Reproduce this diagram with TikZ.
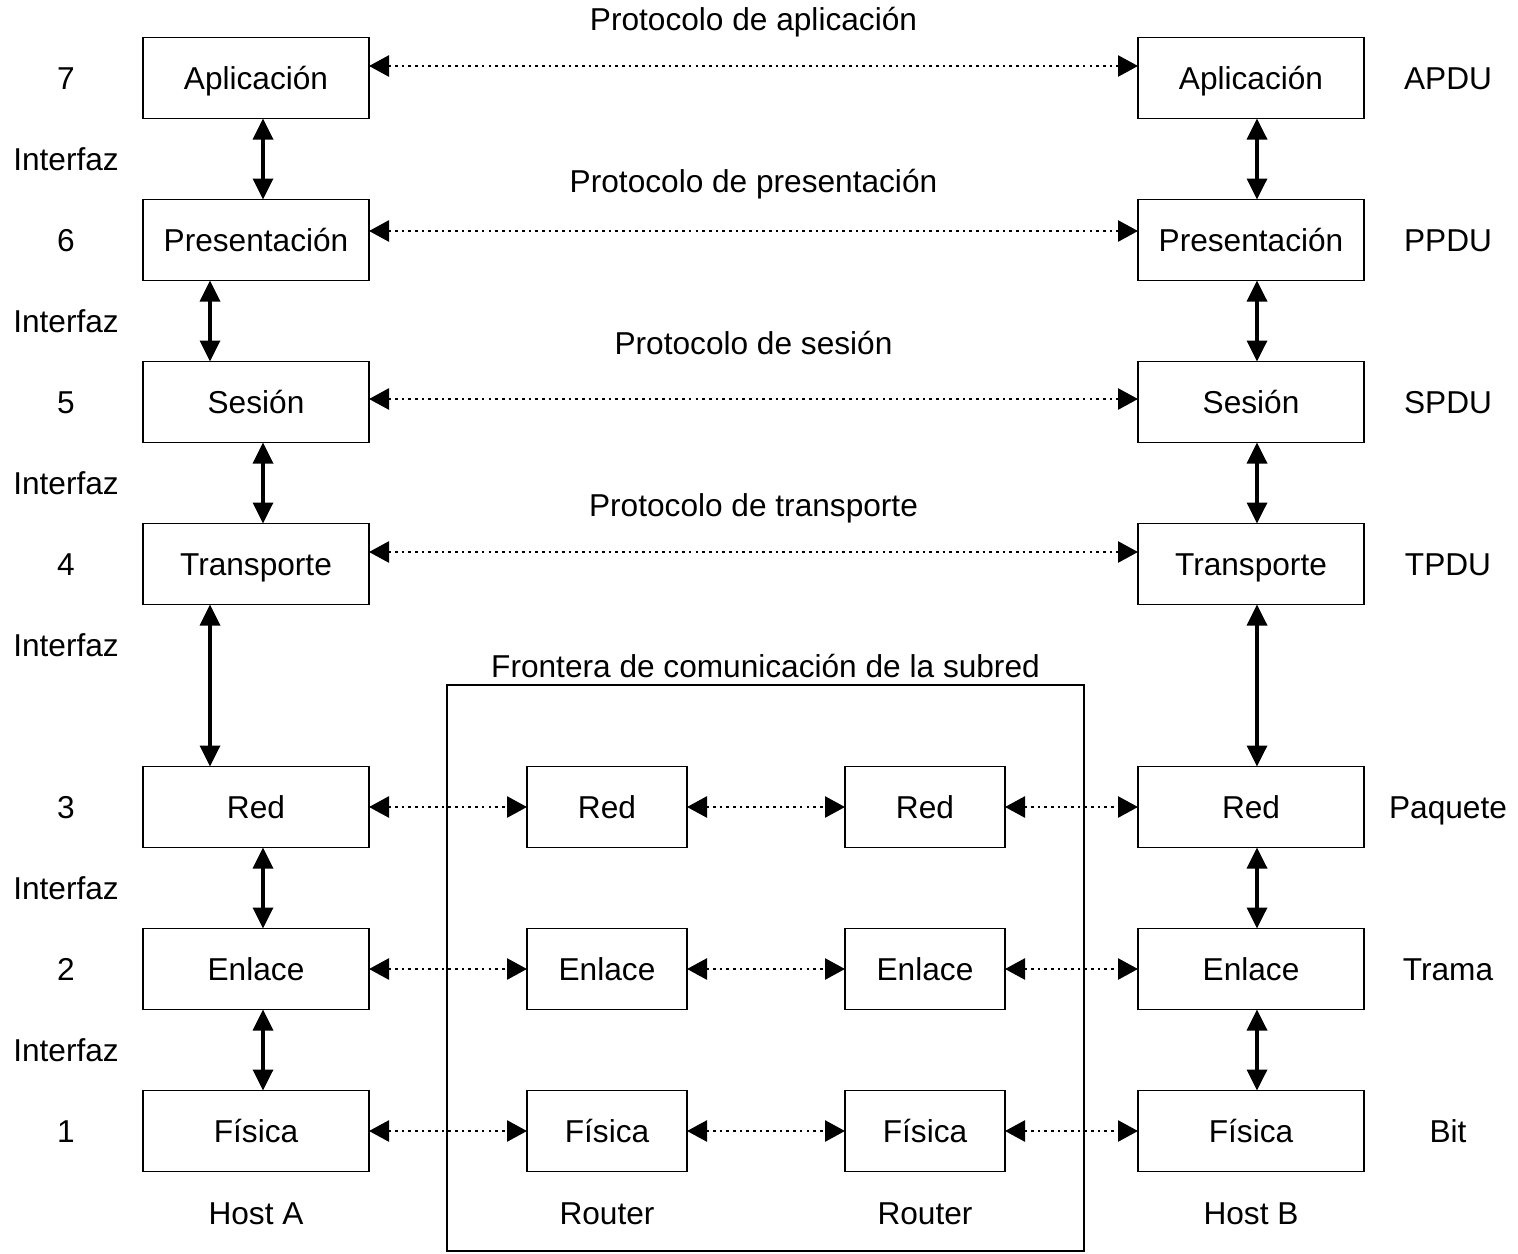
\documentclass[tikz,border=0pt]{standalone}
\usepackage{fontspec}
\setmainfont{Liberation Sans}
\usetikzlibrary{arrows.meta,positioning,calc}

\begin{document}
\begin{tikzpicture}[
    every node/.style={font=\fontsize{18}{21}\selectfont, text height=12.9pt, text depth=0pt},
    layer/.style={rectangle, draw, line width=0.9pt, inner sep=0pt, outer sep=0pt, minimum height=1.62cm, minimum width=#1},
    layer/.default=4.52cm,
    rlayer/.style={layer=3.2cm},
    ifarr/.style={{Triangle[length=0.42cm, width=0.4cm]}-{Triangle[length=0.42cm, width=0.4cm]}, line width=2pt},
    peer/.style={{Triangle[length=0.4cm, width=0.42cm]}-{Triangle[length=0.4cm, width=0.42cm]}, line width=1.5pt, dash pattern=on 1.5pt off 2.3pt},
]
\useasboundingbox (0,0) rectangle (30.36,-25.08);
% subnet frame
\node[draw, line width=0.9pt, inner sep=0pt, outer sep=0pt, minimum width=12.74cm, minimum height=11.32cm] (frame) at (15.31,-19.36) {};
\node[anchor=base] (front) at ($(frame.north)+(0,0.15)$) {Frontera de comunicación de la subred};
% host A
\node[layer] (a7) at (5.12,-1.56) {Aplicación};
\node[layer, below=1.62cm of a7] (a6) {Presentación};
\node[layer, below=1.62cm of a6] (a5) {Sesión};
\node[layer, below=1.62cm of a5] (a4) {Transporte};
\node[layer, below=3.24cm of a4] (a3) {Red};
\node[layer, below=1.62cm of a3] (a2) {Enlace};
\node[layer, below=1.62cm of a2] (a1) {Física};
% host B
\node[layer, right=15.38cm of a7] (b7) {Aplicación};
\node[layer, below=1.62cm of b7] (b6) {Presentación};
\node[layer, below=1.62cm of b6] (b5) {Sesión};
\node[layer, below=1.62cm of b5] (b4) {Transporte};
\node[layer, below=3.24cm of b4] (b3) {Red};
\node[layer, below=1.62cm of b3] (b2) {Enlace};
\node[layer, below=1.62cm of b2] (b1) {Física};
% routers
\node[rlayer, right=3.16cm of a3] (ra3) {Red};
\node[rlayer, right=3.16cm of a2] (ra2) {Enlace};
\node[rlayer, right=3.16cm of a1] (ra1) {Física};
\node[rlayer, right=3.16cm of ra3] (rb3) {Red};
\node[rlayer, right=3.16cm of ra2] (rb2) {Enlace};
\node[rlayer, right=3.16cm of ra1] (rb1) {Física};
% layer numbers and interfaces
\coordinate (numcol) at (1.32,0);
\node (n7) at (a7 -| numcol) {7};
\node (n6) at (a6 -| numcol) {6};
\node (n5) at (a5 -| numcol) {5};
\node (n4) at (a4 -| numcol) {4};
\node (n3) at (a3 -| numcol) {3};
\node (n2) at (a2 -| numcol) {2};
\node (n1) at (a1 -| numcol) {1};
\node (if7) at ($(n7)+(0,-1.63)$) {Interfaz};
\node (if6) at ($(n6)+(0,-1.63)$) {Interfaz};
\node (if5) at ($(n5)+(0,-1.63)$) {Interfaz};
\node (if4) at ($(n4)+(0,-1.63)$) {Interfaz};
\node (if3) at ($(n3)+(0,-1.63)$) {Interfaz};
\node (if2) at ($(n2)+(0,-1.63)$) {Interfaz};
% data units
\coordinate (pducol) at (28.96,0);
\node (p7) at (b7 -| pducol) {APDU};
\node (p6) at (b6 -| pducol) {PPDU};
\node (p5) at (b5 -| pducol) {SPDU};
\node (p4) at (b4 -| pducol) {TPDU};
\node (p3) at (b3 -| pducol) {Paquete};
\node (p2) at (b2 -| pducol) {Trama};
\node (p1) at (b1 -| pducol) {Bit};
% protocol labels
\node (pr7) at ($(a7.east)!0.5!(b7.west)+(0,1.18)$) {Protocolo de aplicación};
\node (pr6) at ($(a6.east)!0.5!(b6.west)+(0,1.18)$) {Protocolo de presentación};
\node (pr5) at ($(a5.east)!0.5!(b5.west)+(0,1.18)$) {Protocolo de sesión};
\node (pr4) at ($(a4.east)!0.5!(b4.west)+(0,1.18)$) {Protocolo de transporte};
% machine names
\node (hosta) at ($(a1)+(0,-1.64)$) {Host A};
\node (rta) at ($(ra1)+(0,-1.64)$) {Router};
\node (rtb) at ($(rb1)+(0,-1.64)$) {Router};
\node (hostb) at ($(b1)+(0,-1.64)$) {Host B};
% interfaces
\draw[ifarr] ([xshift=0.14cm]a7.south) -- ([xshift=0.14cm]a6.north);
\draw[ifarr] ([xshift=-0.92cm]a6.south) -- ([xshift=-0.92cm]a5.north);
\draw[ifarr] ([xshift=0.14cm]a5.south) -- ([xshift=0.14cm]a4.north);
\draw[ifarr] ([xshift=-0.92cm]a4.south) -- ([xshift=-0.92cm]a3.north);
\draw[ifarr] ([xshift=0.14cm]a3.south) -- ([xshift=0.14cm]a2.north);
\draw[ifarr] ([xshift=0.14cm]a2.south) -- ([xshift=0.14cm]a1.north);
\draw[ifarr] ([xshift=0.12cm]b7.south) -- ([xshift=0.12cm]b6.north);
\draw[ifarr] ([xshift=0.12cm]b6.south) -- ([xshift=0.12cm]b5.north);
\draw[ifarr] ([xshift=0.12cm]b5.south) -- ([xshift=0.12cm]b4.north);
\draw[ifarr] ([xshift=0.12cm]b4.south) -- ([xshift=0.12cm]b3.north);
\draw[ifarr] ([xshift=0.12cm]b3.south) -- ([xshift=0.12cm]b2.north);
\draw[ifarr] ([xshift=0.12cm]b2.south) -- ([xshift=0.12cm]b1.north);
% peer protocols
\draw[peer] ([yshift=0.24cm]a7.east) -- ([yshift=0.24cm]b7.west);
\draw[peer] ([yshift=0.18cm]a6.east) -- ([yshift=0.18cm]b6.west);
\draw[peer] ([yshift=0.06cm]a5.east) -- ([yshift=0.06cm]b5.west);
\draw[peer] ([yshift=0.24cm]a4.east) -- ([yshift=0.24cm]b4.west);
\draw[peer] (a3) -- (ra3); \draw[peer] (ra3) -- (rb3); \draw[peer] (rb3) -- (b3);
\draw[peer] (a2) -- (ra2); \draw[peer] (ra2) -- (rb2); \draw[peer] (rb2) -- (b2);
\draw[peer] (a1) -- (ra1); \draw[peer] (ra1) -- (rb1); \draw[peer] (rb1) -- (b1);
\end{tikzpicture}
\end{document}
